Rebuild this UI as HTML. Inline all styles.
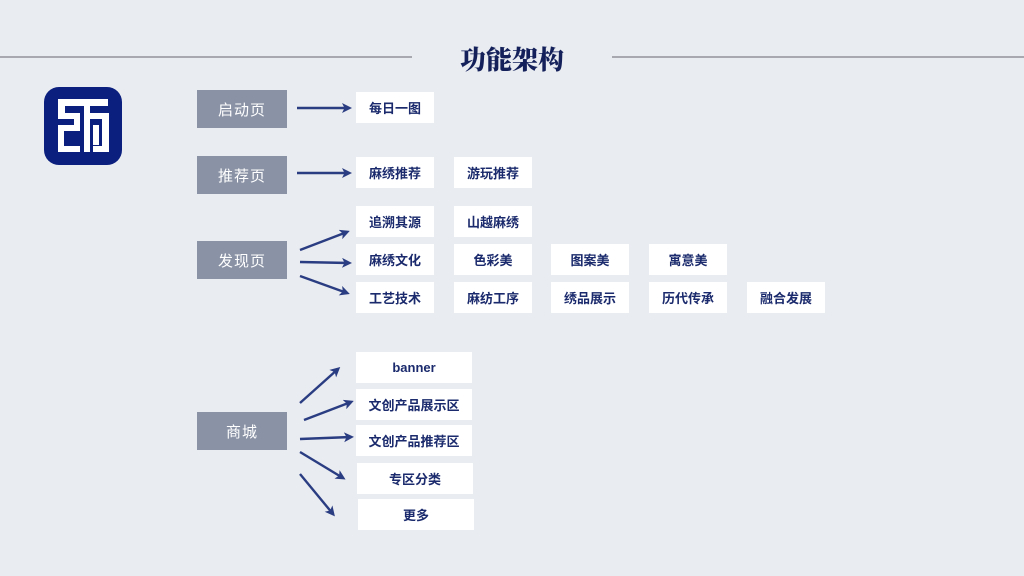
<!DOCTYPE html>
<html><head><meta charset="utf-8"><style>
body{margin:0;width:1024px;height:576px;background:#e9ecf0;position:relative;overflow:hidden;font-family:"Liberation Sans","Noto Sans CJK SC",sans-serif}
.g{position:absolute;left:197px;width:90px;height:38px;background:#8a93a6;color:#fff;font-size:15px;display:flex;align-items:center;justify-content:center;letter-spacing:1px}
.w{position:absolute;height:31px;width:78px;background:#fff;color:#1a2a6c;font-size:13px;font-weight:bold;display:flex;align-items:center;justify-content:center}
.l{width:116px}
</style></head><body>
<div style="position:absolute;left:0;top:56px;width:412px;height:2px;background:#a8a8b0"></div>
<div style="position:absolute;left:612px;top:56px;width:412px;height:2px;background:#a8a8b0"></div>
<div style="position:absolute;left:412px;width:200px;top:40px;text-align:center;font-family:'Noto Serif CJK SC',serif;font-weight:900;font-size:26px;color:#14205a">功能架构</div>
<svg style="position:absolute;left:0;top:0" width="1024" height="576">
<rect x="44" y="87" width="78" height="78" rx="15" fill="#0b1f7e"/>
<g fill="#fff">
<rect x="58" y="99" width="50" height="7"/>
<rect x="58" y="106" width="7" height="12"/>
<rect x="58" y="113" width="22" height="6"/>
<rect x="74" y="113" width="6" height="18"/>
<rect x="58" y="125" width="22" height="6"/>
<rect x="58" y="125" width="6" height="27"/>
<rect x="58" y="146" width="22" height="6"/>
<rect x="84" y="106" width="6" height="46"/>
<rect x="84" y="113" width="25" height="6"/>
<rect x="102" y="113" width="7" height="39"/>
<rect x="93" y="125" width="6" height="20"/>
<rect x="93" y="146" width="16" height="6"/>
</g>
<defs><marker id="a" markerWidth="10" markerHeight="10" refX="7" refY="5" orient="auto" markerUnits="userSpaceOnUse"><path d="M0,0 L10,5 L0,10 L2.5,5z" fill="#2a3c82"/></marker></defs>
<g stroke="#2a3c82" stroke-width="2.4" marker-end="url(#a)">
<line x1="297" y1="108" x2="349" y2="108"/>
<line x1="297" y1="173" x2="349" y2="173"/>
<line x1="300" y1="250" x2="347" y2="232"/>
<line x1="300" y1="262" x2="349" y2="263"/>
<line x1="300" y1="276" x2="347" y2="293"/>
<line x1="300" y1="403" x2="338" y2="369"/>
<line x1="304" y1="420" x2="351" y2="402"/>
<line x1="300" y1="439" x2="351" y2="437"/>
<line x1="300" y1="452" x2="343" y2="478"/>
<line x1="300" y1="474" x2="333" y2="514"/>
</g>
</svg>
<div class="g" style="top:90px">启动页</div>
<div class="g" style="top:156px">推荐页</div>
<div class="g" style="top:241px">发现页</div>
<div class="g" style="top:412px">商城</div>
<div class="w" style="left:356px;top:92px">每日一图</div>
<div class="w" style="left:356px;top:157px">麻绣推荐</div>
<div class="w" style="left:454px;top:157px">游玩推荐</div>
<div class="w" style="left:356px;top:206px">追溯其源</div>
<div class="w" style="left:454px;top:206px">山越麻绣</div>
<div class="w" style="left:356px;top:244px">麻绣文化</div>
<div class="w" style="left:454px;top:244px">色彩美</div>
<div class="w" style="left:551px;top:244px">图案美</div>
<div class="w" style="left:649px;top:244px">寓意美</div>
<div class="w" style="left:356px;top:282px">工艺技术</div>
<div class="w" style="left:454px;top:282px">麻纺工序</div>
<div class="w" style="left:551px;top:282px">绣品展示</div>
<div class="w" style="left:649px;top:282px">历代传承</div>
<div class="w" style="left:747px;top:282px">融合发展</div>
<div class="w l" style="left:356px;top:352px">banner</div>
<div class="w l" style="left:356px;top:389px">文创产品展示区</div>
<div class="w l" style="left:356px;top:425px">文创产品推荐区</div>
<div class="w l" style="left:357px;top:463px">专区分类</div>
<div class="w l" style="left:358px;top:499px">更多</div>
</body></html>
